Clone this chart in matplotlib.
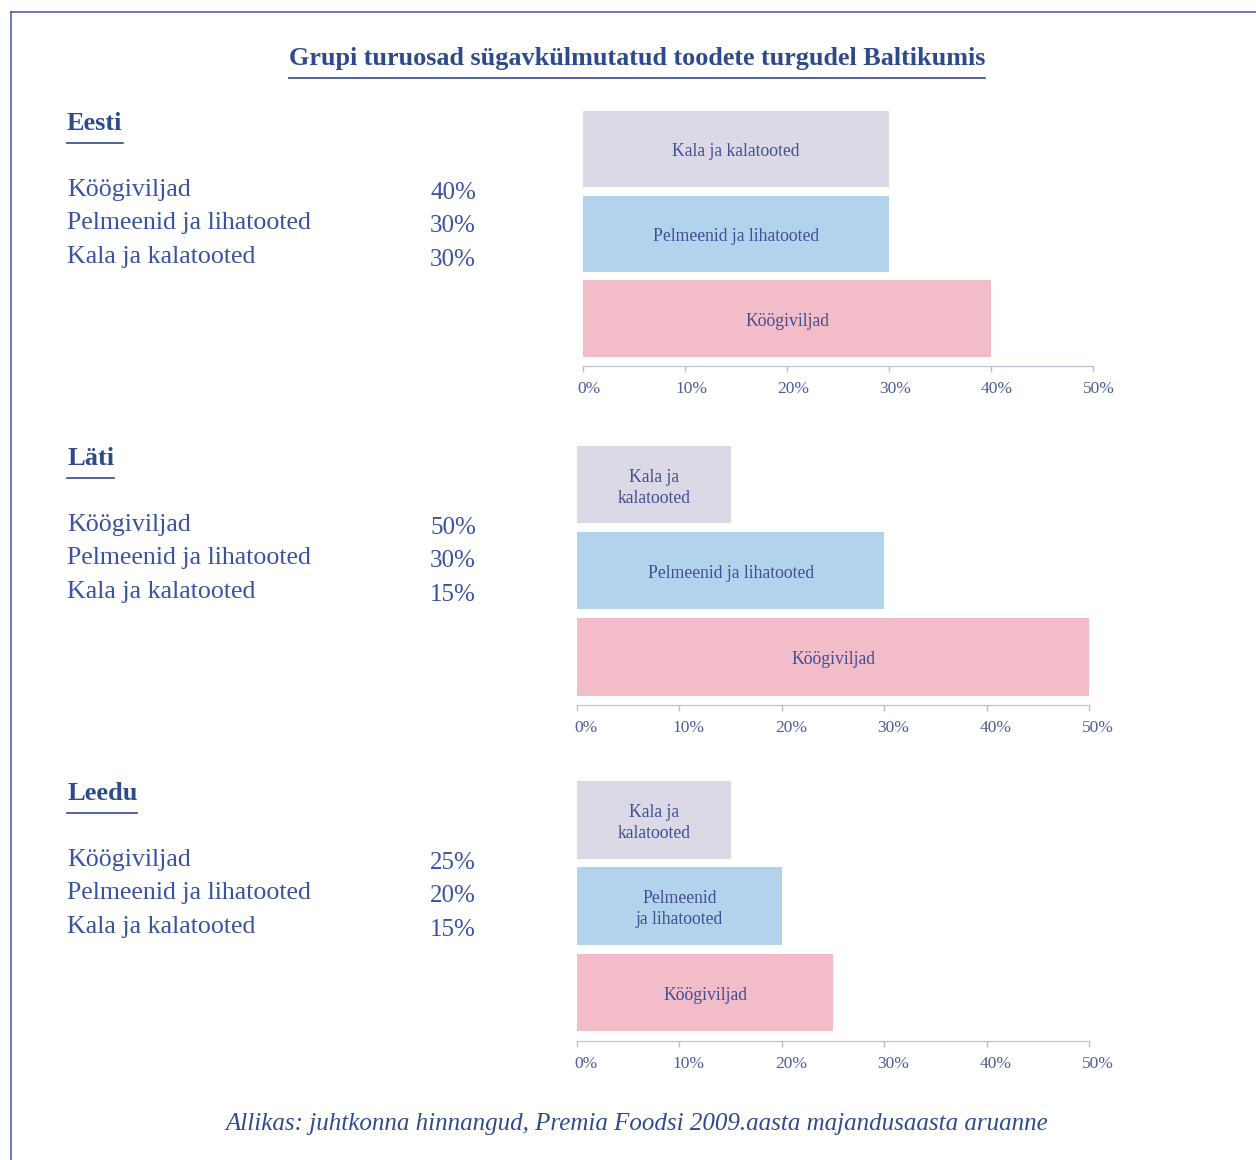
import matplotlib.pyplot as plt
import matplotlib.transforms as mtransforms
from matplotlib.lines import Line2D

plt.rcParams['font.family'] = ['Liberation Serif', 'DejaVu Serif']

W, H = 1256, 1160

title = 'Grupi turuosad sügavkülmutatud toodete turgudel Baltikumis'
source = 'Allikas: juhtkonna hinnangud, Premia Foodsi 2009.aasta majandusaasta aruanne'

countries = ['Eesti', 'Läti', 'Leedu']
categories = ['Köögiviljad', 'Pelmeenid ja lihatooted', 'Kala ja kalatooted']
eesti = [40, 30, 30]
lati = [50, 30, 15]
leedu = [25, 20, 15]
values = [eesti, lati, leedu]

# text written inside the bars (line breaks where the bar is short)
bar_labels = [
    ['Köögiviljad', 'Pelmeenid ja lihatooted', 'Kala ja kalatooted'],
    ['Köögiviljad', 'Pelmeenid ja lihatooted', 'Kala ja\nkalatooted'],
    ['Köögiviljad', 'Pelmeenid\nja lihatooted', 'Kala ja\nkalatooted'],
]
ticks = [0, 10, 20, 30, 40, 50]
tick_labels = ['0%', '10%', '20%', '30%', '40%', '50%']

bar_colors = ['#f3bcc9', '#b3d2eb', '#dcd9e7']
navy = '#2e4a8f'
text_col = '#3a52a0'
label_col = '#3f4f94'
tick_col = '#4d5c9f'
axis_col = '#b4bde0'

# axes boxes in pixels: left, right, top, bottom
boxes = [(583, 1093, 110, 366), (577, 1089, 445, 705), (577, 1089, 780, 1041)]


def fx(x):
    return x / W


def fy(y):
    return 1 - y / H


fig = plt.figure(figsize=(W / 100, H / 100), dpi=100)
renderer = fig.canvas.get_renderer()


def underline(t, y, lw=1.2):
    bb = t.get_window_extent(renderer=renderer)
    fig.add_artist(Line2D([bb.x0 / W, bb.x1 / W], [fy(y), fy(y)],
                          transform=fig.transFigure, color=navy, lw=lw))


# frame lines on the left and top
fig.add_artist(Line2D([fx(11), fx(11)], [fy(12), 0], transform=fig.transFigure,
                      color='#4a63a8', lw=1.2))
fig.add_artist(Line2D([fx(11), 1], [fy(12), fy(12)], transform=fig.transFigure,
                      color='#4a63a8', lw=1.2))

t = fig.text(fx(637), fy(65), title, ha='center', va='baseline',
             fontsize=18.8, fontweight='bold', color=navy)
underline(t, 77.5)

for i, country in enumerate(countries):
    off = 335 * i
    h = fig.text(fx(67), fy(130 + off), country, ha='left', va='baseline',
                 fontsize=19, fontweight='bold', color=navy)
    underline(h, 143 + off)
    for j, cat in enumerate(categories):
        fig.text(fx(67), fy(196 + off + 33.3 * j), cat, ha='left', va='baseline',
                 fontsize=18.6, color=text_col)
        fig.text(fx(476), fy(199 + off + 33.3 * j), f'{values[i][j]}%', ha='right',
                 va='baseline', fontsize=18, color=text_col)

    l, r, top, bot = boxes[i]
    ax = fig.add_axes([fx(l), fy(bot), (r - l) / W, (bot - top) / H])
    ax.barh(range(3), values[i], height=0.9, color=bar_colors)
    down = mtransforms.ScaledTranslation(0, -3 / 100, fig.dpi_scale_trans)
    for j, v in enumerate(values[i]):
        ax.text(v / 2, j, bar_labels[i][j], ha='center', va='center',
                fontsize=12.7, color=label_col, linespacing=1.3,
                transform=ax.transData + down)
    ax.set_xlim(0, 50)
    ax.set_ylim(-0.56, 2.46)
    ax.set_yticks([])
    ax.set_xticks(ticks)
    ax.set_xticklabels(tick_labels)
    for s in ['top', 'right', 'left']:
        ax.spines[s].set_visible(False)
    ax.spines['bottom'].set_color(axis_col)
    ax.tick_params(axis='x', colors=axis_col, length=4, width=1, pad=6.5,
                   labelsize=12.5, labelcolor=tick_col)
    ax.set_facecolor('none')
    shift = mtransforms.ScaledTranslation((6 if i == 0 else 9) / 100, 0,
                                          fig.dpi_scale_trans)
    for lab in ax.get_xticklabels():
        lab.set_transform(lab.get_transform() + shift)

fig.text(fx(637), fy(1130), source, ha='center', va='baseline',
         fontsize=18, style='italic', color=navy)

fig.savefig('out.png', dpi=100)
